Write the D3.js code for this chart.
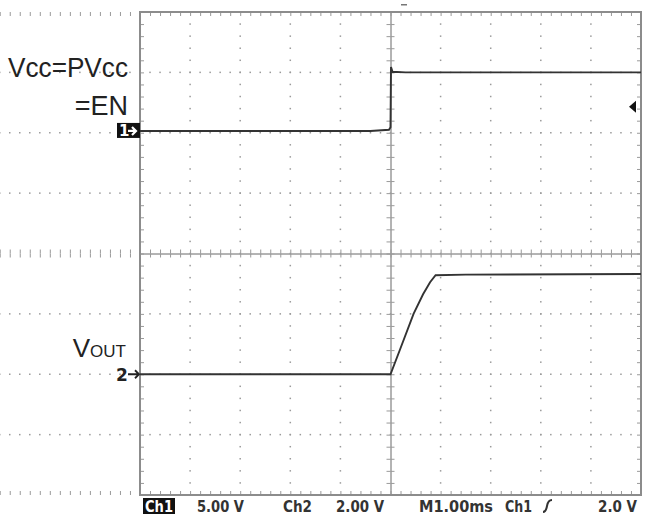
<!DOCTYPE html>
<html>
<head>
<meta charset="utf-8">
<script src="https://cdn.jsdelivr.net/npm/d3@7"></script>
<style>
  body { margin: 0; background: #fff; }
  svg { display: block; }
</style>
</head>
<body>
<div id="chart"></div>
<script>
// scope settings
const timePerDiv = 1.0; // ms
const ch1VoltsPerDiv = 5.0;
const ch2VoltsPerDiv = 2.0;
const ch1Offset = 2.03; // divisions above centre
const ch2Offset = -2.0;
const triggerLevel = 2.0; // V on Ch1

// traces (time in ms, volts)
const ch1Time = [-5, -0.4, -0.03, 0, 0.01, 0.04, 0.3, 5];
const ch1Volts = [0, 0, 0.1, 0.3, 5.3, 4.9, 4.85, 4.85];
const ch2Time = [-5, -0.02, 0, 0.19, 0.46, 0.65, 0.79, 0.9, 1.5, 5];
const ch2Volts = [0, 0, 0, 0.82, 2.0, 2.65, 3.05, 3.28, 3.3, 3.32];

const footer = [
  { text: 'Ch1', x: 145, len: 28, box: true },
  { text: '5.00 V', x: 197, len: 47 },
  { text: 'Ch2', x: 283, len: 29 },
  { text: '2.00 V', x: 336, len: 48 },
  { text: 'M1.00ms', x: 419, len: 74 },
  { text: 'Ch1', x: 505, len: 27 },
  { text: '2.0 V', x: 598, len: 39 },
];

const w = 649, h = 519;
const box = { left: 140, right: 641, top: 12, bottom: 495 };

const svg = d3
  .select('#chart')
  .append('svg')
  .attr('width', w)
  .attr('height', h);

const xScale = d3
  .scaleLinear()
  .domain([-5 * timePerDiv, 5 * timePerDiv])
  .range([box.left, box.right]);
const yScale = d3
  .scaleLinear()
  .domain([-4, 4])
  .range([box.bottom, box.top]);

const gridColor = '#9a9a9a';
const minorX = d3.range(-50, 51).map(i => (i / 5) * timePerDiv);
const minorY = d3.range(-20, 21).map(i => i / 5);
const majorX = d3.range(-4, 5).filter(i => i !== 0);
const majorY = d3.range(-3, 4).filter(i => i !== 0);

// dotted graticule
const dots = svg.append('g').attr('fill', gridColor);
majorX.forEach(mx =>
  minorY.forEach(my =>
    dots
      .append('rect')
      .attr('x', xScale(mx * timePerDiv) - 0.75)
      .attr('y', yScale(my) - 0.75)
      .attr('width', 1.5)
      .attr('height', 1.5),
  ),
);
majorY.forEach(my =>
  minorX.forEach(mx =>
    dots
      .append('rect')
      .attr('x', xScale(mx) - 0.75)
      .attr('y', yScale(my) - 0.75)
      .attr('width', 1.5)
      .attr('height', 1.5),
  ),
);

// centre cross with ticks on both sides
const styleAxis = g => {
  g.selectAll('text').remove();
  g.selectAll('path, line').attr('stroke', gridColor);
};
const cy = yScale(0);
const cx = xScale(0);
svg
  .append('g')
  .attr('transform', 'translate(0,' + cy + ')')
  .call(d3.axisBottom(xScale).tickValues(minorX).tickSize(4).tickSizeOuter(0))
  .call(styleAxis);
svg
  .append('g')
  .attr('transform', 'translate(0,' + cy + ')')
  .call(d3.axisTop(xScale).tickValues(minorX).tickSize(4).tickSizeOuter(0))
  .call(styleAxis);
svg
  .append('g')
  .attr('transform', 'translate(' + cx + ',0)')
  .call(d3.axisLeft(yScale).tickValues(minorY).tickSize(4).tickSizeOuter(0))
  .call(styleAxis);
svg
  .append('g')
  .attr('transform', 'translate(' + cx + ',0)')
  .call(d3.axisRight(yScale).tickValues(minorY).tickSize(4).tickSizeOuter(0))
  .call(styleAxis);

// border ticks pointing inward
svg
  .append('g')
  .attr('transform', 'translate(0,' + box.top + ')')
  .call(d3.axisBottom(xScale).tickValues(minorX).tickSize(4).tickSizeOuter(0))
  .call(styleAxis);
svg
  .append('g')
  .attr('transform', 'translate(0,' + box.bottom + ')')
  .call(d3.axisTop(xScale).tickValues(minorX).tickSize(4).tickSizeOuter(0))
  .call(styleAxis);
svg
  .append('g')
  .attr('transform', 'translate(' + box.left + ',0)')
  .call(d3.axisRight(yScale).tickValues(minorY).tickSize(4).tickSizeOuter(0))
  .call(styleAxis);
svg
  .append('g')
  .attr('transform', 'translate(' + box.right + ',0)')
  .call(d3.axisLeft(yScale).tickValues(minorY).tickSize(4).tickSizeOuter(0))
  .call(styleAxis);

svg
  .append('rect')
  .attr('x', box.left)
  .attr('y', box.top)
  .attr('width', box.right - box.left)
  .attr('height', box.bottom - box.top)
  .attr('fill', 'none')
  .attr('stroke', '#8c8c8c')
  .attr('stroke-width', 2);

// traces
const ch1Line = d3
  .line()
  .x(i => xScale(ch1Time[i]))
  .y(i => yScale(ch1Offset + ch1Volts[i] / ch1VoltsPerDiv));
const ch2Line = d3
  .line()
  .x(i => xScale(ch2Time[i]))
  .y(i => yScale(ch2Offset + ch2Volts[i] / ch2VoltsPerDiv));

svg
  .append('path')
  .attr('d', ch1Line(d3.range(ch1Time.length)))
  .attr('fill', 'none')
  .attr('stroke', '#333')
  .attr('stroke-width', 1.9);
svg
  .append('path')
  .attr('d', ch2Line(d3.range(ch2Time.length)))
  .attr('fill', 'none')
  .attr('stroke', '#333')
  .attr('stroke-width', 1.9);

// channel ground markers
const g1 = yScale(ch1Offset);
svg
  .append('rect')
  .attr('x', 117)
  .attr('y', g1 - 8)
  .attr('width', 23)
  .attr('height', 15)
  .attr('fill', '#111');
svg
  .append('text')
  .attr('x', 119)
  .attr('y', g1 + 5.5)
  .attr('fill', '#fff')
  .style('font', 'bold 15px "DejaVu Sans"')
  .text('1');
svg
  .append('path')
  .attr('d', 'M128,' + g1 + 'h8m-4,-4l4,4l-4,4')
  .attr('stroke', '#fff')
  .attr('stroke-width', 2.2)
  .attr('fill', 'none');

const g2 = yScale(ch2Offset);
svg
  .append('text')
  .attr('x', 116)
  .attr('y', g2 + 7)
  .attr('fill', '#222')
  .style('font', 'bold 17px "DejaVu Sans"')
  .text('2');
svg
  .append('path')
  .attr('d', 'M128,' + g2 + 'h11m-4,-4l4,4l-4,4')
  .attr('stroke', '#222')
  .attr('stroke-width', 1.8)
  .attr('fill', 'none');

// trigger level marker (right) and trigger position marker (top)
const tl = yScale(ch1Offset + triggerLevel / ch1VoltsPerDiv);
svg
  .append('path')
  .attr('d', 'M629,' + tl + 'l7,-6v12z')
  .attr('fill', '#111');
svg
  .append('rect')
  .attr('x', 401)
  .attr('y', 4)
  .attr('width', 6)
  .attr('height', 1.5)
  .attr('fill', '#777');

// signal labels
const labelFont = '"Liberation Sans", Arial, sans-serif';
svg
  .append('text')
  .attr('x', 128)
  .attr('y', 77)
  .attr('text-anchor', 'end')
  .attr('fill', '#222')
  .style('font-family', labelFont)
  .style('font-size', '27px')
  .attr('textLength', 120)
  .attr('lengthAdjust', 'spacingAndGlyphs')
  .text('Vcc=PVcc');
svg
  .append('text')
  .attr('x', 128)
  .attr('y', 115)
  .attr('text-anchor', 'end')
  .attr('fill', '#222')
  .style('font-family', labelFont)
  .style('font-size', '27px')
  .text('=EN');
const vout = svg
  .append('text')
  .attr('x', 126)
  .attr('y', 357)
  .attr('text-anchor', 'end')
  .attr('fill', '#222')
  .style('font-family', labelFont);
vout.append('tspan').style('font-size', '26px').text('V');
vout.append('tspan').style('font-size', '17px').text('OUT');

// status line
const foot = svg.append('g').style('font', 'bold 15px "DejaVu Sans"');
footer.forEach(d => {
  if (d.box) {
    foot
      .append('rect')
      .attr('x', d.x - 2)
      .attr('y', 498)
      .attr('width', d.len + 4)
      .attr('height', 16)
      .attr('fill', '#111');
  }
  foot
    .append('text')
    .attr('x', d.x)
    .attr('y', 512)
    .attr('fill', d.box ? '#fff' : '#333')
    .attr('textLength', d.len)
    .attr('lengthAdjust', 'spacingAndGlyphs')
    .text(d.text);
});
// trigger slope symbol
foot
  .append('path')
  .attr('d', 'M543,512 q3,0 4,-6 q1,-6 5,-6')
  .attr('stroke', '#333')
  .attr('stroke-width', 2)
  .attr('fill', 'none');
</script>
</body>
</html>
